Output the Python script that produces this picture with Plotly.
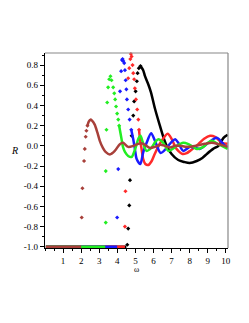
import plotly.graph_objects as go

# ---------------- data ----------------
x_ticks = [1, 2, 3, 4, 5, 6, 7, 8, 9, 10]
y_ticks = [-1.0, -0.8, -0.6, -0.4, -0.2, 0.0, 0.2, 0.4, 0.6, 0.8]
y_tick_text = ["-1.0", "-0.8", "-0.6", "-0.4", "-0.2", "0.0", "0.2", "0.4", "0.6", "0.8"]

# brown series
brown_flat_w = [0.05, 2.0]
brown_flat_R = [-1.0, -1.0]
brown_rise_w = [2.03, 2.07, 2.16, 2.20, 2.25, 2.29, 2.35]
brown_rise_R = [-0.71, -0.42, -0.15, -0.03, 0.09, 0.15, 0.20]
brown_w = [2.35, 2.42, 2.51, 2.6, 2.75, 2.9, 3.03, 3.2, 3.35, 3.59, 3.86, 4.14, 4.32, 4.6, 4.88,
           5.16, 5.34, 5.53, 5.80, 6.08, 6.36, 6.64, 6.91, 7.19, 7.47, 7.84, 8.30, 8.85, 9.22, 9.59, 10.1]
brown_R = [0.20, 0.24, 0.26, 0.25, 0.21, 0.13, 0.05, -0.02, -0.06, -0.085, -0.05, 0.017, 0.03, -0.01, 0.0,
           0.02, 0.025, 0.01, -0.02, -0.01, 0.01, 0.0, -0.016, 0.0, 0.0, -0.01, 0.0, 0.02, 0.03, 0.017, -0.01]

# green series
green_flat_w = [0.05, 3.33]
green_flat_R = [-1.0, -1.0]
green_rise_w = [3.36, 3.36, 3.40, 3.44, 3.49, 3.55, 3.62, 3.68, 3.77, 3.83, 3.88, 3.93, 3.99, 4.05, 4.10]
green_rise_R = [-0.76, -0.25, 0.16, 0.43, 0.58, 0.66, 0.69, 0.65, 0.58, 0.52, 0.46, 0.39, 0.32, 0.26, 0.20]
green_w = [4.10, 4.14, 4.23, 4.32, 4.42, 4.6, 4.79, 4.95, 5.07, 5.16, 5.28, 5.4, 5.62, 5.9, 6.1, 6.27,
           6.54, 6.82, 7.05, 7.28, 7.65, 7.9, 8.1, 8.39, 8.76, 9.0, 9.22, 9.59, 10.1]
green_R = [0.20, 0.16, 0.07, -0.016, -0.06, -0.1, -0.11, -0.05, 0.017, 0.07, 0.1, 0.04, -0.05, -0.016, 0.04, 0.066,
           0.03, -0.05, -0.03, 0.0, 0.03, 0.02, 0.0, -0.03, -0.01, 0.03, 0.05, 0.017, -0.03]

# blue series
blue_flat_w = [0.05, 3.99]
blue_flat_R = [-1.0, -1.0]
blue_rise_w = [3.99, 4.05, 4.15, 4.21, 4.26, 4.29, 4.33, 4.38, 4.42, 4.46, 4.50, 4.53, 4.60, 4.68, 4.77]
blue_rise_R = [-0.71, -0.23, 0.54, 0.74, 0.85, 0.86, 0.84, 0.82, 0.75, 0.65, 0.56, 0.46, 0.36, 0.26, 0.16]
blue_w = [4.77, 4.88, 4.97, 5.07, 5.27, 5.43, 5.62, 5.87, 6.08, 6.4, 6.73, 7.0, 7.2, 7.37, 7.65,
          8.02, 8.3, 8.58, 9.04, 9.5, 9.96, 10.1]
blue_R = [0.16, 0.066, -0.03, -0.13, -0.18, -0.065, 0.03, 0.125, 0.05, -0.07, -0.02, 0.04, 0.066, 0.03, -0.05,
          -0.01, -0.02, -0.03, 0.03, 0.08, 0.0, -0.01]

# red series
red_flat_w = [0.05, 4.42]
red_flat_R = [-1.0, -1.0]
red_rise_w = [4.42, 4.45, 4.6, 4.66, 4.72, 4.75, 4.79, 4.84, 4.88, 4.93, 4.97, 5.03, 5.10, 5.16, 5.20]
red_rise_R = [-0.80, -0.45, 0.67, 0.77, 0.86, 0.91, 0.885, 0.80, 0.72, 0.66, 0.57, 0.46, 0.36, 0.26, 0.16]
red_w = [5.20, 5.25, 5.34, 5.43, 5.55, 5.71, 5.9, 6.08, 6.45, 6.78, 7.0, 7.2, 7.37, 7.6, 7.8, 8.02,
         8.48, 8.8, 9.13, 9.4, 9.78, 10.1]
red_R = [0.16, 0.07, -0.03, -0.13, -0.18, -0.19, -0.15, -0.075, 0.05, 0.12, 0.07, -0.01, -0.05, -0.08, -0.075, -0.05,
         0.017, 0.07, 0.1, 0.09, 0.03, 0.02]

# black series
black_flat_w = [0.05, 4.5]
black_flat_R = [-1.0, -1.0]
black_rise_w = [4.55, 4.6, 4.66, 4.70, 4.79, 4.88, 4.93, 5.01, 5.08, 5.12, 5.19, 5.28]
black_rise_R = [-0.98, -0.82, -0.59, -0.34, 0.10, 0.30, 0.44, 0.54, 0.64, 0.72, 0.77, 0.79]
black_w = [5.28, 5.43, 5.53, 5.71, 5.86, 6.08, 6.32, 6.54, 6.73, 7.0, 7.37, 7.7, 8.0, 8.39, 8.7,
           8.95, 9.3, 9.59, 9.87, 10.1]
black_R = [0.79, 0.75, 0.69, 0.61, 0.53, 0.37, 0.22, 0.09, 0.0, -0.08, -0.14, -0.16, -0.17, -0.15, -0.12,
           -0.08, -0.03, 0.0, 0.08, 0.11]

series = [
    ("black", "#000000", black_flat_w, black_flat_R, black_rise_w, black_rise_R, black_w, black_R),
    ("red", "#ff2a2a", red_flat_w, red_flat_R, red_rise_w, red_rise_R, red_w, red_R),
    ("blue", "#1a1aff", blue_flat_w, blue_flat_R, blue_rise_w, blue_rise_R, blue_w, blue_R),
    ("green", "#22ee22", green_flat_w, green_flat_R, green_rise_w, green_rise_R, green_w, green_R),
    ("brown", "#a8403a", brown_flat_w, brown_flat_R, brown_rise_w, brown_rise_R, brown_w, brown_R),
]

fig = go.Figure()
for name, col, fw, fR, rw, rR, dw, dR in series:
    fig.add_trace(go.Scatter(x=fw, y=fR, mode="lines", line=dict(color=col, width=2.5),
                             showlegend=False, cliponaxis=False))
    fig.add_trace(go.Scatter(x=rw, y=rR, mode="markers",
                             marker=dict(color=col, size=3.2, symbol="diamond"),
                             showlegend=False, cliponaxis=False))
    fig.add_trace(go.Scatter(x=dw, y=dR, mode="lines",
                             line=dict(color=col, width=2.5, shape="spline", smoothing=0.8),
                             showlegend=False))

font = dict(family="Liberation Serif, Times New Roman, serif", size=9, color="#000000")

# the page body adds an 8px offset, so the figure is sized to fit the window
fig.update_layout(
    width=241, height=315,
    margin=dict(l=37, r=21, t=45, b=75),
    paper_bgcolor="white", plot_bgcolor="white",
    font=font,
    xaxis=dict(range=[0, 10.12], tickvals=x_ticks, ticks="outside", ticklen=4, tickwidth=1,
               tickcolor="#000", showline=True, linecolor="#000", linewidth=1.2,
               showgrid=False, zeroline=False, tickfont=font, automargin=False,
               minor=dict(dtick=0.5, ticks="outside", ticklen=2, tickcolor="#000")),
    yaxis=dict(range=[-1.012, 0.92], tickvals=y_ticks, ticktext=y_tick_text, ticks="outside", ticklen=4,
               tickwidth=1, tickcolor="#000", showline=True, linecolor="#000", linewidth=1.2,
               showgrid=False, zeroline=False, tickfont=font, automargin=False,
               minor=dict(dtick=0.1, tick0=0, ticks="outside", ticklen=2, tickcolor="#000")),
    shapes=[
        dict(type="line", xref="paper", yref="paper", x0=0, x1=1, y0=1, y1=1,
             line=dict(color="#888888", width=1.2)),
        dict(type="line", xref="paper", yref="paper", x0=1, x1=1, y0=0, y1=1,
             line=dict(color="#888888", width=1.2)),
    ],
    annotations=[
        dict(text="<i>R</i>", xref="paper", yref="paper", x=-0.164, y=0.50, showarrow=False,
             font=dict(family="Liberation Serif, serif", size=10, color="#000")),
        dict(text="ω", xref="paper", yref="paper", x=0.502, y=-0.112, showarrow=False,
             font=dict(family="Liberation Serif, serif", size=8, color="#000")),
    ],
)
fig.update_annotations(yanchor="middle", xanchor="center")

fig.write_html("out.html")
